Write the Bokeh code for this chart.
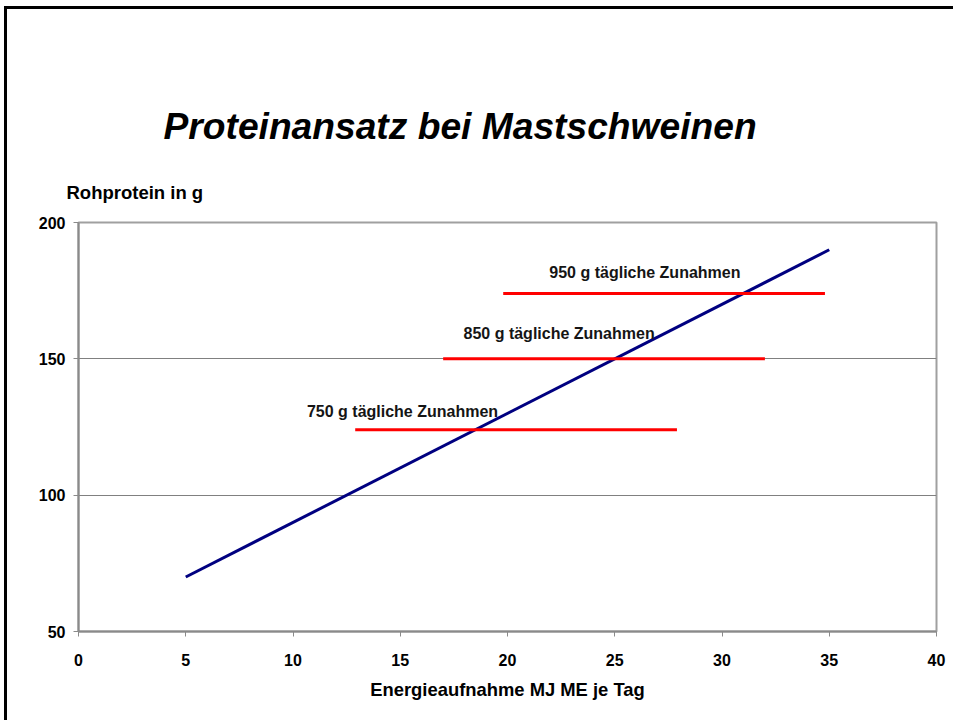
from bokeh.plotting import figure
from bokeh.models import Range1d, FixedTicker, Title, ColumnDataSource
from bokeh.core.properties import value
from bokeh.embed import file_html
from bokeh.resources import INLINE

# --- data -------------------------------------------------------------
energy = [5, 35]            # MJ ME je Tag
protein = [70, 190]         # Rohprotein in g

gain_labels = ["950 g tägliche Zunahmen", "850 g tägliche Zunahmen", "750 g tägliche Zunahmen"]
seg_start = [19.8, 17.0, 12.9]
seg_end = [34.8, 32.0, 27.9]
seg_level = [174, 150, 124]
label_x = [21.95, 17.95, 10.65]
label_y = [181.6, 159.3, 130.8]

x_ticks = [0, 5, 10, 15, 20, 25, 30, 35, 40]
y_ticks = [50, 100, 150, 200]

FONT = "Liberation Sans"

p = figure(width=949, height=714, output_backend="svg", toolbar_location=None,
           x_range=Range1d(0, 40), y_range=Range1d(50, 200),
           min_border_left=71, min_border_right=20, min_border_top=213, min_border_bottom=92)
p.styles = {"margin-left": "4px", "margin-top": "6px",
            "border-left": "3px solid black", "border-top": "3px solid black"}
p.background_fill_color = "white"
p.border_fill_color = "white"
p.outline_line_color = "#a0a0a0"
p.outline_line_width = 2

p.xgrid.grid_line_color = None
p.ygrid.grid_line_color = "#808080"
p.ygrid.grid_line_width = 1
p.ygrid.ticker = FixedTicker(ticks=y_ticks)

p.xaxis.ticker = FixedTicker(ticks=x_ticks)
p.yaxis.ticker = FixedTicker(ticks=y_ticks)
for ax in (p.xaxis, p.yaxis):
    ax.axis_line_color = "#8a8a8a"
    ax.axis_line_width = 2
    ax.major_tick_line_color = "#8a8a8a"
    ax.major_tick_line_width = 1
    ax.major_tick_in = 0
    ax.major_tick_out = 5
    ax.minor_tick_line_color = None
    ax.major_label_text_font = FONT
    ax.major_label_text_font_style = "bold"
    ax.major_label_text_font_size = "16px"
    ax.major_label_text_color = "black"
p.xaxis.major_label_standoff = 17
p.yaxis.major_label_standoff = 8

p.xaxis.axis_label = "Energieaufnahme MJ ME je Tag"
p.xaxis.axis_label_text_font = FONT
p.xaxis.axis_label_text_font_style = "bold"
p.xaxis.axis_label_text_font_size = "18.4px"
p.xaxis.axis_label_text_color = "black"
p.xaxis.axis_label_standoff = 10

# blue line
p.line(energy, protein, line_color="#000080", line_width=3)

# red horizontal segments
src = ColumnDataSource(dict(x0=seg_start, x1=seg_end, y=seg_level))
p.segment(x0="x0", y0="y", x1="x1", y1="y", source=src, line_color="#ff0000", line_width=3)

tsrc = ColumnDataSource(dict(x=label_x, y=label_y, t=gain_labels))
p.text(x="x", y="y", text="t", source=tsrc, text_font=value(FONT), text_font_size="16px",
       text_font_style="bold", text_color="#151515", text_baseline="alphabetic", text_align="left")

# y label and title as titles stacked above the frame
p.add_layout(Title(text="Rohprotein in g", align="left", offset=-12, standoff=39,
                   text_font=FONT, text_font_size="18.5px", text_font_style="bold",
                   text_color="black"), "above")
p.add_layout(Title(text="Proteinansatz bei Mastschweinen", align="left", offset=85, standoff=28,
                   text_font=FONT, text_font_size="37.2px", text_font_style="bold italic",
                   text_color="black"), "above")

open("out.html", "w").write(file_html(p, INLINE))
